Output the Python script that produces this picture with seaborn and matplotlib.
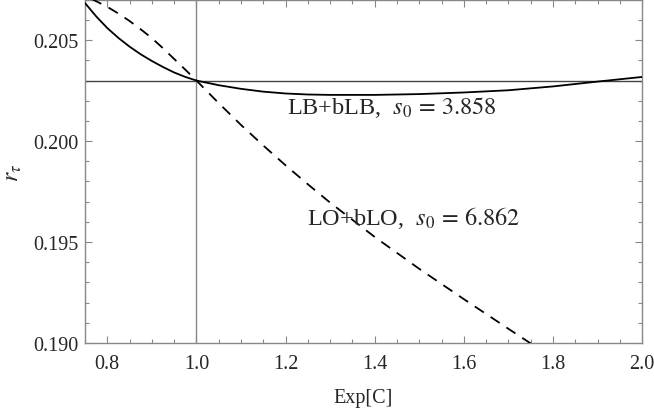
import numpy as np
import pandas as pd
import matplotlib
matplotlib.use("Agg")
import matplotlib.pyplot as plt
import seaborn as sns
from matplotlib.ticker import MultipleLocator, FormatStrFormatter

# Data
exp_c_lb = [0.75, 0.775, 0.80, 0.825, 0.85, 0.875, 0.90, 0.925, 0.95, 0.975,
            1.00, 1.05, 1.10, 1.15, 1.20, 1.25, 1.30, 1.40, 1.50, 1.60,
            1.70, 1.80, 1.90, 2.00]
r_tau_lb = [0.20684, 0.20618, 0.20560, 0.20511, 0.20468, 0.20430, 0.20397,
            0.20367, 0.20340, 0.20318, 0.20300, 0.20277, 0.20259, 0.20245,
            0.20236, 0.20231, 0.20229, 0.20229, 0.20233, 0.20241, 0.20252,
            0.20271, 0.20295, 0.20318]

exp_c_lo = [0.75, 0.775, 0.80, 0.825, 0.85, 0.875, 0.90, 0.925, 0.95, 0.975,
            1.00, 1.05, 1.10, 1.15, 1.20, 1.25, 1.30, 1.40, 1.50, 1.60,
            1.70, 1.80]
r_tau_lo = [0.20720, 0.20693, 0.20665, 0.20632, 0.20595, 0.20554, 0.20510,
            0.20460, 0.20407, 0.20354, 0.20300, 0.20188, 0.20080, 0.19978,
            0.19880, 0.19786, 0.19695, 0.19525, 0.19367, 0.19217, 0.19070,
            0.18925]

ref_x = 1.0
ref_y = 0.2030
label_lb = r"LB+bLB,  $s_0\,=\,3.858$"
label_lo = r"LO+bLO,  $s_0\,=\,6.862$"

sns.set_style("ticks")
plt.rcParams["font.family"] = ["Liberation Serif", "DejaVu Serif"]
plt.rcParams["mathtext.fontset"] = "stix"

df_lb = pd.DataFrame({"x": exp_c_lb, "y": r_tau_lb})
df_lo = pd.DataFrame({"x": exp_c_lo, "y": r_tau_lo})

fig = plt.figure(figsize=(6.54, 4.10), dpi=100)
ax = fig.add_axes([0.130, 0.161, 0.852, 0.837])

ax.axhline(ref_y, color="#444444", lw=1.0, zorder=1)
ax.axvline(ref_x, color="#888888", lw=1.0, zorder=1)

sns.lineplot(data=df_lb, x="x", y="y", ax=ax, color="black", lw=1.3,
             sort=False, zorder=3)
sns.lineplot(data=df_lo, x="x", y="y", ax=ax, color="black", lw=1.3,
             sort=False, zorder=3)
ax.lines[-1].set_dashes([6, 4.5])

ax.set_xlim(0.75, 2.0)
ax.set_ylim(0.190, 0.207)
ax.xaxis.set_major_locator(MultipleLocator(0.2))
ax.xaxis.set_minor_locator(MultipleLocator(0.05))
ax.yaxis.set_major_locator(MultipleLocator(0.005))
ax.yaxis.set_minor_locator(MultipleLocator(0.001))
ax.xaxis.set_major_formatter(FormatStrFormatter("%.1f"))
ax.yaxis.set_major_formatter(FormatStrFormatter("%.3f"))

ax.tick_params(which="both", direction="in", top=True, right=True,
               color="#888888", labelsize=14.5)
ax.tick_params(which="major", length=5, width=0.8)
ax.tick_params(which="minor", length=3, width=0.8)
ax.tick_params(axis="x", which="major", pad=8)
ax.tick_params(axis="y", which="major", pad=5)
for s in ax.spines.values():
    s.set_color("#888888")
    s.set_linewidth(1.0)

ax.set_xlabel("Exp[C]", fontsize=14.5, labelpad=11)
ax.set_ylabel(r"$r_\tau$", fontsize=17, va="center", ha="center")
ax.yaxis.set_label_coords(-0.128, 0.5)

ax.text(1.439, 0.20171, label_lb, fontsize=17.5, ha="center", va="center")
ax.text(1.488, 0.19623, label_lo, fontsize=17.5, ha="center", va="center")

fig.savefig("out.png", dpi=100)
